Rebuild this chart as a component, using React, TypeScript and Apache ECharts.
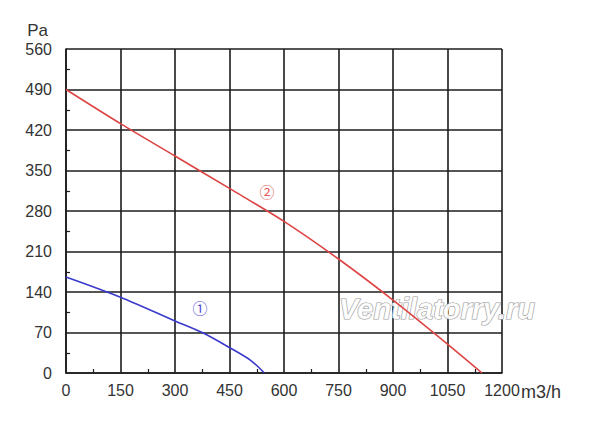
import React, { useEffect, useRef } from "react";
import * as echarts from "echarts";

const xTicks = [0, 150, 300, 450, 600, 750, 900, 1050, 1200];
const yTicks = [0, 70, 140, 210, 280, 350, 420, 490, 560];

const curve2: [number, number][] = [
  [0, 490], [150, 431], [300, 375], [450, 319], [600, 262],
  [750, 197], [900, 126], [1050, 50], [1145, 0],
];
const curve1: [number, number][] = [
  [0, 166], [150, 131], [300, 90], [375, 70], [450, 44], [508, 22], [546, 0],
];

const label1Pos: [number, number] = [369, 113];
const label2Pos: [number, number] = [553, 314];

const xName = "m3/h";
const yName = "Pa";
const watermark = "Ventilatorry.ru";

export default function App() {
  const ref = useRef<HTMLDivElement>(null);
  useEffect(() => {
    if (!ref.current) return;
    const chart = echarts.init(ref.current, null, { renderer: "svg" });
    const lineColor = "#1c1c1c";
    const labelColor = "#333";
    const font = "Liberation Sans, Arial, sans-serif";
    chart.setOption({
      animation: false,
      backgroundColor: "#fff",
      grid: { left: 66, right: 98, top: 49, bottom: 49 },
      xAxis: {
        type: "value",
        min: xTicks[0],
        max: xTicks[xTicks.length - 1],
        interval: 150,
        name: xName,
        nameLocation: "end",
        nameGap: 19,
        nameMoveOverlap: false,
        nameTextStyle: {
          fontSize: 18,
          color: labelColor,
          fontFamily: font,
          verticalAlign: "top",
          padding: [10, 0, 0, 0],
        },
        axisLine: { show: true, lineStyle: { color: lineColor, width: 1.6 } },
        axisTick: { show: false },
        minorTick: { show: true, splitNumber: 2, length: -4, lineStyle: { color: lineColor, width: 1.2 } },
        splitLine: { show: true, lineStyle: { color: lineColor, width: 1.6 } },
        axisLabel: {
          fontSize: 16,
          color: labelColor,
          margin: 9,
          fontFamily: font,
          formatter: (v: number) => String(v),
        },
      },
      yAxis: {
        type: "value",
        min: yTicks[0],
        max: yTicks[yTicks.length - 1],
        interval: 70,
        name: yName,
        nameLocation: "end",
        nameGap: 10,
        nameMoveOverlap: false,
        nameTextStyle: {
          fontSize: 17,
          color: labelColor,
          fontFamily: font,
          align: "right",
          padding: [0, 18, 0, 0],
        },
        axisLine: { show: true, lineStyle: { color: lineColor, width: 1.6 } },
        axisTick: { show: false },
        minorTick: { show: true, splitNumber: 2, length: -4, lineStyle: { color: lineColor, width: 1.2 } },
        splitLine: { show: true, lineStyle: { color: lineColor, width: 1.6 } },
        axisLabel: {
          fontSize: 16,
          color: labelColor,
          margin: 14,
          fontFamily: font,
          formatter: (v: number) => String(v),
        },
      },
      graphic: [
        {
          type: "text",
          x: 339,
          y: 309,
          z: 1,
          style: {
            text: watermark,
            fontSize: 29,
            fontStyle: "italic",
            fontWeight: "bold",
            fontFamily: font,
            fill: "rgba(255,255,255,0.92)",
            stroke: "#9a9a9a",
            lineWidth: 1.2,
            textVerticalAlign: "middle",
          },
        },
      ],
      series: [
        {
          type: "line",
          data: curve2,
          smooth: 0.3,
          symbol: "none",
          z: 3,
          lineStyle: { color: "#dd4444", width: 1.6 },
          markPoint: {
            symbol: "circle",
            symbolSize: 1,
            itemStyle: { color: "transparent" },
            label: {
              show: true,
              position: "inside",
              formatter: "②",
              fontSize: 15,
              color: "#e05555",
              fontFamily: "Noto Sans CJK SC, DejaVu Sans, sans-serif",
            },
            data: [{ coord: label2Pos }],
          },
        },
        {
          type: "line",
          data: curve1,
          smooth: 0.3,
          symbol: "none",
          z: 3,
          lineStyle: { color: "#3a3acc", width: 1.6 },
          markPoint: {
            symbol: "circle",
            symbolSize: 1,
            itemStyle: { color: "transparent" },
            label: {
              show: true,
              position: "inside",
              formatter: "①",
              fontSize: 15,
              color: "#4a4ad0",
              fontFamily: "Noto Sans CJK SC, DejaVu Sans, sans-serif",
            },
            data: [{ coord: label1Pos }],
          },
        },
      ],
    });
    return () => chart.dispose();
  }, []);
  return <div ref={ref} style={{ width: 600, height: 422, position: "absolute", left: 0, top: 0 }} />;
}
